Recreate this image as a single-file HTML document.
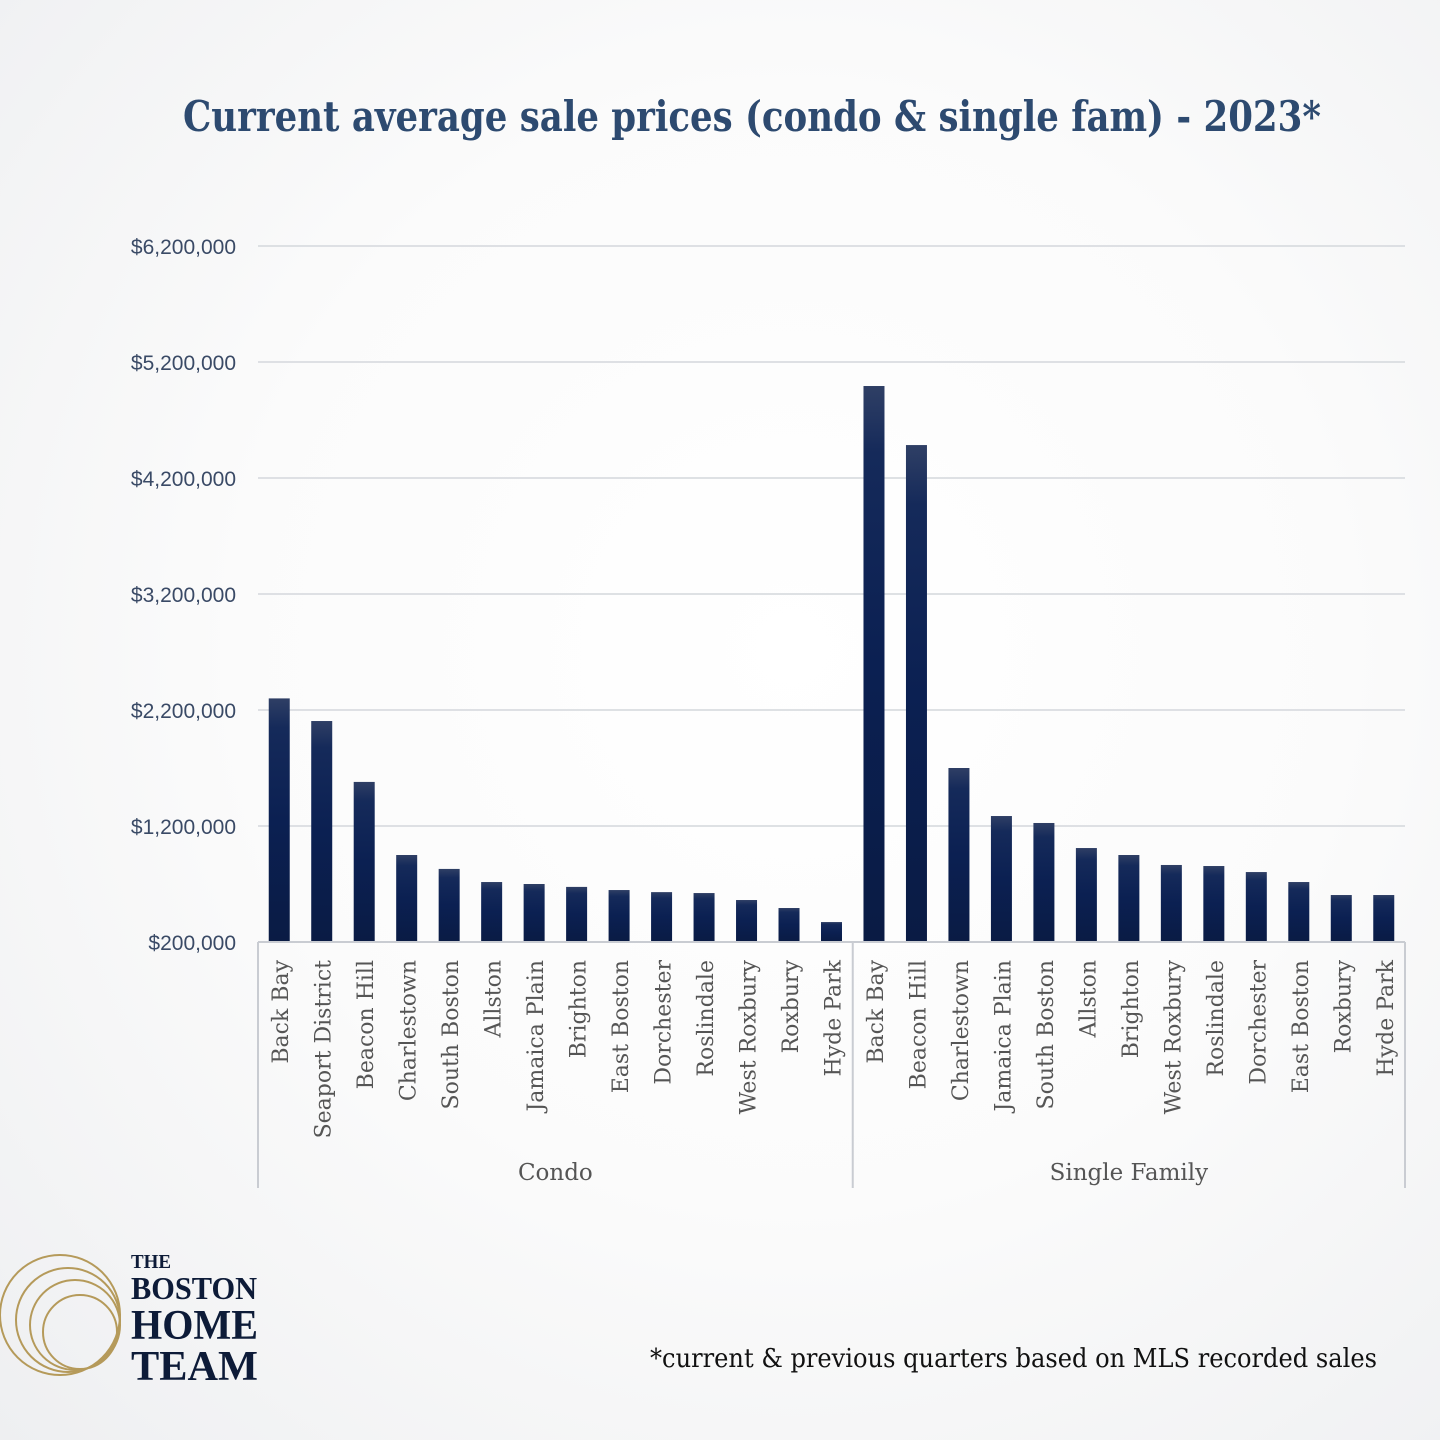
<!DOCTYPE html>
<html><head><meta charset="utf-8"><style>
html,body{margin:0;padding:0;width:1440px;height:1440px;overflow:hidden}
body{background:radial-gradient(ellipse at 55% 45%,#ffffff 0%,#fbfbfb 50%,#eeeff1 100%)}
svg{display:block}
</style></head><body>
<svg id="chart" width="1440" height="1440" viewBox="0 0 1440 1440" xmlns="http://www.w3.org/2000/svg">
<defs>
<linearGradient id="barg" x1="0" y1="0" x2="0" y2="1">
<stop offset="0" stop-color="#2f3f65"/>
<stop offset="0.12" stop-color="#152a5a"/>
<stop offset="0.5" stop-color="#0b2052"/>
<stop offset="1" stop-color="#0a1b44"/>
</linearGradient>
</defs>
<text x="752" y="131" text-anchor="middle" font-family="'DejaVu Serif','Liberation Serif',serif" font-weight="bold" font-size="42" fill="#2d4a70" textLength="1138" lengthAdjust="spacingAndGlyphs">Current average sale prices (condo &amp; single fam) - 2023*</text>
<g id="grid"></g>
<g id="bars"></g>
<g id="xlabels"></g>
<g>
<circle cx="60" cy="1315" r="60" fill="none" stroke="#b59a5a" stroke-width="2"/>
<circle cx="68" cy="1320" r="52" fill="none" stroke="#b59a5a" stroke-width="2"/>
<circle cx="75" cy="1325" r="45" fill="none" stroke="#b59a5a" stroke-width="2"/>
<circle cx="80" cy="1332" r="37" fill="none" stroke="#b59a5a" stroke-width="2"/>
<text x="131" y="1268" font-family="'Liberation Serif',serif" font-weight="bold" font-size="20" fill="#0d1b38" textLength="40" lengthAdjust="spacingAndGlyphs">THE</text>
<text x="131" y="1299" font-family="'Liberation Serif',serif" font-weight="bold" font-size="32" fill="#0d1b38" textLength="126" lengthAdjust="spacingAndGlyphs">BOSTON</text>
<text x="131" y="1339" font-family="'Liberation Serif',serif" font-weight="bold" font-size="42" fill="#0d1b38" textLength="127" lengthAdjust="spacingAndGlyphs">HOME</text>
<text x="131" y="1380" font-family="'Liberation Serif',serif" font-weight="bold" font-size="42" fill="#0d1b38" textLength="127" lengthAdjust="spacingAndGlyphs">TEAM</text>
</g>
<text x="650" y="1367" font-family="'DejaVu Serif','Liberation Serif',serif" font-size="26" fill="#111" textLength="727" lengthAdjust="spacingAndGlyphs">*current &amp; previous quarters based on MLS recorded sales</text>
</svg>
<script>
const categories = ["Back Bay","Seaport District","Beacon Hill","Charlestown","South Boston","Allston","Jamaica Plain","Brighton","East Boston","Dorchester","Roslindale","West Roxbury","Roxbury","Hyde Park","Back Bay","Beacon Hill","Charlestown","Jamaica Plain","South Boston","Allston","Brighton","West Roxbury","Roslindale","Dorchester","East Boston","Roxbury","Hyde Park"];
const groups = ["Condo","Single Family"];
const groupSizes = [14,13];
const values = [2300000,2105000,1580000,950000,830000,717000,700000,675000,648000,630000,622000,562000,493000,372000,4993000,4484000,1700000,1286000,1226000,1010000,950000,864000,855000,803000,717000,605000,605000];
const tickValues = [200000,1200000,2200000,3200000,4200000,5200000,6200000];
const tickLabels = ["$200,000","$1,200,000","$2,200,000","$3,200,000","$4,200,000","$5,200,000","$6,200,000"];

const NS="http://www.w3.org/2000/svg";
const L=258,R=1405,B=942,T=246,vmin=200000,vmax=6200000;
const y=v=>B-(v-vmin)/(vmax-vmin)*(B-T);
const bw=(R-L)/categories.length;
const x=i=>L+bw*(i+0.5);
function mk(tag,attrs,parent){const e=document.createElementNS(NS,tag);for(const k in attrs)e.setAttribute(k,attrs[k]);parent.appendChild(e);return e;}
const grid=document.getElementById('grid');
tickValues.forEach((v,i)=>{
  if(i>0){const ln=mk('line',{x1:L,x2:R,y1:y(v),y2:y(v),stroke:'#d4d7dc','stroke-width':1.5},grid);
  
  }
  const t=mk('text',{x:236,y:y(v)+8,'text-anchor':'end','font-family':"'Liberation Sans',sans-serif",'font-size':21,fill:'#3a4a66'},grid);
  t.textContent=tickLabels[i];
  
  
});
const bars=document.getElementById('bars');
values.forEach((v,i)=>{
  const r=mk('rect',{x:x(i)-10.5,y:y(v),width:21,height:B-y(v),fill:'url(#barg)'},bars);
  
  
});
const xl=document.getElementById('xlabels');
const ax=mk('line',{x1:L,x2:R,y1:B,y2:B,stroke:'#c9ccd2','stroke-width':2},xl);


categories.forEach((c,i)=>{
  const t=mk('text',{transform:`translate(${x(i)+9},${B+18}) rotate(-90)`,'text-anchor':'end','font-family':"'DejaVu Serif','Liberation Serif',serif",'font-size':22,fill:'#555'},xl);
  t.textContent=c;
  
  
});
let start=0;
const sep=i=>L+bw*i;
[0].concat(groupSizes.map((s,k)=>groupSizes.slice(0,k+1).reduce((a,b)=>a+b,0))).forEach(i=>{
  const ln=mk('line',{x1:sep(i),x2:sep(i),y1:B,y2:1188,stroke:'#c9ccd2','stroke-width':2},xl);
  
  
});
groups.forEach((g,k)=>{
  const mid=(sep(start)+sep(start+groupSizes[k]))/2;
  const t=mk('text',{x:mid,y:1180,'text-anchor':'middle','font-family':"'DejaVu Serif','Liberation Serif',serif",'font-size':23,fill:'#555'},xl);
  t.textContent=g;
  
  
  start+=groupSizes[k];
});
</script>
</body></html>
